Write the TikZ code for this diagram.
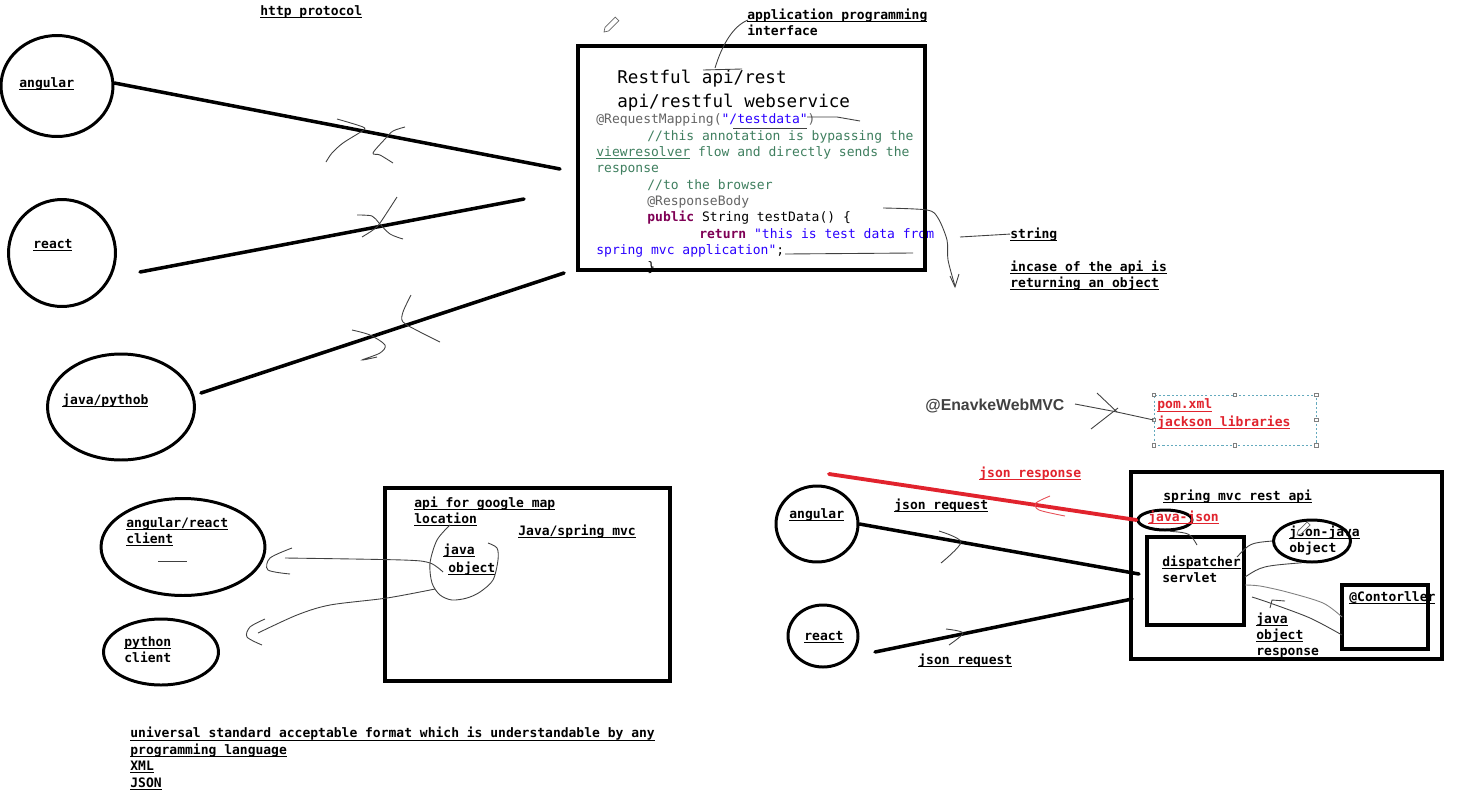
\documentclass[tikz,border=0pt]{standalone}
\usepackage{fontspec}
\setmonofont{DejaVu Sans Mono}
\newfontfamily\headfont{Liberation Sans}
\usetikzlibrary{shapes.geometric}
\definecolor{annot}{RGB}{100,100,100}
\definecolor{cmt}{RGB}{63,127,95}
\definecolor{kw}{RGB}{127,0,85}
\definecolor{str}{RGB}{42,0,255}
\definecolor{wred}{RGB}{225,35,45}
\definecolor{selc}{RGB}{100,170,190}
\definecolor{inkg}{RGB}{65,65,65}
\newsavebox\ulbox
\newcommand{\ulin}[1]{\sbox\ulbox{#1}\rlap{\rule[-1.5pt]{\wd\ulbox}{0.55pt}}\usebox\ulbox}
\tikzset{
  lbl/.style={font=\ttfamily\bfseries\fontsize{7.4}{9.1}\selectfont, inner sep=0pt, anchor=base west, align=left},
  code/.style={font=\ttfamily\fontsize{7.4}{9.3}\selectfont, inner sep=0pt, anchor=base west, align=left},
  ttl/.style={font=\ttfamily\fontsize{10}{13.6}\selectfont, inner sep=0pt, anchor=base west, align=left},
  ring/.style={ellipse, draw, line width=1.7pt, inner sep=0pt},
  frame/.style={draw, line width=2.2pt, inner sep=0pt},
  wire/.style={line width=2pt, line cap=round},
  redwire/.style={wred, line width=2.2pt, line cap=round},
  scrib/.style={black!75, line width=0.5pt},
  redscrib/.style={wred!80, line width=0.5pt},
  hdl/.style={draw=gray, fill=white, line width=0.4pt, minimum size=0.07cm, inner sep=0pt},
  pencil/.style={draw=gray!80!black, line width=0.4pt, fill=white},
}
\begin{document}
\begin{tikzpicture}[x=0.02cm, y=-0.02cm]
  \fill[white] (0,0) rectangle (1460,795);
  \useasboundingbox (0,0) rectangle (1460,795);

  % clients over http (multi-line nodes sit on their last line)
  \node[lbl] (http) at (260,15) {\ulin{http protocol}};
  \node[ring, minimum width=2.24cm, minimum height=2.02cm] (angC) at (57,86) {};
  \node[lbl] (angT) at (19,87) {\ulin{angular}};
  \node[ring, minimum width=2.14cm, minimum height=2.14cm] (reaC) at (62,253) {};
  \node[lbl] (reaT) at (33,248) {\ulin{react}};
  \node[ring, minimum width=2.94cm, minimum height=2.12cm] (javC) at (121,407) {};
  \node[lbl] (javT) at (62,404) {\ulin{java/pythob}};

  \coordinate (angE) at (560,169);
  \coordinate (reaS) at (140,272); \coordinate (reaE) at (524,199);
  \coordinate (javS) at (201,393); \coordinate (javE) at (564,273);
  \draw[wire] (angC.3) -- (angE);
  \draw[wire] (reaS) -- (reaE);
  \draw[wire] (javS) -- (javE);

  \draw[scrib] plot[smooth] coordinates {(337,119) (363,127) (362,131) (343,143) (332,153) (326,162)};
  \draw[scrib] plot[smooth] coordinates {(405,127) (393,131) (385,139) (373,153) (380,155) (393,163)};
  \draw[scrib] plot[smooth] coordinates {(397,197) (380,223) (373,230) (362,237)};
  \draw[scrib] plot[smooth] coordinates {(357,215) (372,216) (379,223) (390,234) (403,239)};
  \draw[scrib] plot[smooth] coordinates {(411,295) (403,312) (403,322) (420,332) (440,342)};
  \draw[scrib] plot[smooth] coordinates {(352,330) (370,335) (385,345) (380,353) (362,360) (377,357)};

  % restful api box
  \node[ttl] (rest) at (617,107) {Restful api/rest\\api/restful webservice};
  \node[code] (snip) at (596,271) {%
    \textcolor{annot}{@RequestMapping(}\textcolor{str}{"/testdata"}\textcolor{annot}{)}\\
    \hspace*{1.02cm}\textcolor{cmt}{//this annotation is bypassing the}\\
    \textcolor{cmt}{\ulin{viewresolver} flow and directly sends the}\\
    \textcolor{cmt}{response}\\
    \hspace*{1.02cm}\textcolor{cmt}{//to the browser}\\
    \hspace*{1.02cm}\textcolor{annot}{@ResponseBody}\\
    \hspace*{1.02cm}\textcolor{kw}{\bfseries public} String testData() \{\\
    \hspace*{2.06cm}\textcolor{kw}{\bfseries return} \textcolor{str}{"this is test data from}\\
    \textcolor{str}{spring mvc application"};\\
    \hspace*{1.02cm}\}};
  \node[frame, minimum width=6.94cm, minimum height=4.48cm] (api) at (751.5,158) {};

  \node[lbl] (aplT) at (747,35) {\ulin{application programming}\\interface};
  \draw[pencil] (604,32) -- (608.6,31) -- (618.8,20.8) -- (615.2,17.2) -- (605,27.4) -- cycle;
  \draw[scrib] (703,70) -- (742,69);
  \draw[scrib] (715,68) .. controls (722,45) and (733,26) .. (748,20);
  \draw[scrib] (733,128) -- (807,128);
  \draw[scrib] (807,117) -- (837,117) -- (860,121);
  \draw[scrib] (785,254) -- (913,253);
  \draw[scrib] plot[smooth] coordinates {(883,208) (927,210) (938,218) (947,240) (948,260) (955,286)};
  \draw[scrib] (950,276) -- (955,287) -- (959,274);

  \node[lbl] (strT) at (1010,238) {\ulin{string}};
  \node[lbl] (objT) at (1010,287) {\ulin{incase of the api is}\\\ulin{returning an object}};
  \draw[scrib] (960,237) -- (strT.west);

  % enable web mvc
  \node[font=\headfont\bfseries\fontsize{9}{11}\selectfont, text=inkg, inner sep=0pt, anchor=base west] (enav) at (925,410) {@EnavkeWebMVC};
  \node[draw=selc, dash pattern=on 1.2pt off 1.2pt, line width=0.4pt, minimum width=3.24cm, minimum height=1.0cm, inner sep=0pt] (sel) at (1235,420) {};
  \foreach \a in {north west, north, north east, west, east, south west, south, south east}
    \node[hdl] at (sel.\a) {};
  \node[lbl, text=wred] (pomT) at (1157,426) {\ulin{pom.xml}\\[0.6pt]\ulin{jackson libraries}};
  \draw[scrib] (1075,404) -- (1117,412) -- (sel.west);
  \draw[scrib] (1097,393) -- (1117,412);
  \draw[scrib] (1091,429) -- (1118,408);

  % spring mvc rest api
  \node[lbl, text=wred] (jresT) at (979,477) {\ulin{json response}};
  \node[frame, line width=2pt, minimum width=6.22cm, minimum height=3.74cm] (mvc) at (1286.5,565.5) {};
  \node[lbl] (srT) at (1163,500) {\ulin{spring mvc rest api}};
  \node[ring, minimum width=1.08cm, minimum height=0.4cm] (jjC) at (1165,520) {};
  \node[lbl, text=wred] (jjT) at (1148,521) {\ulin{java-json}};
  \node[ring, minimum width=1.64cm, minimum height=1.52cm] (angC2) at (817,524) {};
  \node[lbl] (angT2) at (789,518) {\ulin{angular}};
  \node[ring, minimum width=1.4cm, minimum height=1.24cm] (reaC2) at (823,636) {};
  \node[lbl] (reaT2) at (804,640) {\ulin{react}};
  \node[lbl] (jrqT) at (894,509) {\ulin{json request}};
  \node[lbl] (jrqT2) at (918,664) {\ulin{json request}};

  \coordinate (angE2) at (1139,574);
  \coordinate (reaS2) at (875,652); \coordinate (reaE2) at (1132,599);
  \coordinate (redS) at (829,474);
  \draw[wire] (angC2.east) -- (angE2);
  \draw[wire] (reaS2) -- (reaE2);
  \draw[redwire] (redS) -- (jjC.west);
  \draw[scrib] plot[smooth] coordinates {(939,531) (961,542) (941,563)};
  \draw[scrib] plot[smooth] coordinates {(946,629) (963,633) (949,645)};
  \draw[redscrib] plot[smooth] coordinates {(1050,496) (1036,503) (1039,510) (1065,516)};

  \node[frame, line width=2pt, minimum width=1.94cm, minimum height=1.76cm] (disp) at (1195.5,581) {};
  \node[lbl] (dsT) at (1162,582) {\ulin{dispatcher}\\servlet};
  \node[ring, minimum width=1.54cm, minimum height=0.84cm] (jvC) at (1312,541) {};
  \node[lbl] (jvT) at (1289,552) {\ulin{json-java}\\object};
  \draw[pencil] (1297,535) -- (1301,534) -- (1310,525) -- (1307,522) -- (1298,531) -- cycle;
  \node[frame, line width=2pt, minimum width=1.72cm, minimum height=1.28cm] (ctrl) at (1385,617) {};
  \node[lbl] (ctT) at (1349,601) {\ulin{@Contorller}};
  \node[lbl] (jorT) at (1256,655) {\ulin{java}\\\ulin{object}\\response};

  \draw[scrib] (jjC.-65) .. controls (1190,533) .. (1197,545);
  \draw[scrib] (1237,557) .. controls (1250,543) .. (jvC.west);
  \draw[scrib] (1245,577) .. controls (1262,566) .. (jvC.-115);
  \draw[gray, line width=0.5pt] plot[smooth] coordinates {(1245,585) (1260,586) (1287,592) (1323,603) (1342,617)};
  \draw[scrib] plot[smooth] coordinates {(1252,597) (1270,603) (1310,618) (1342,635)};
  \draw[scrib] (1270,608) -- (1272,600) -- (1285,601);

  % google map api
  \node[frame, line width=2pt, minimum width=5.7cm, minimum height=3.86cm] (gmap) at (527.5,584.5) {};
  \node[lbl] (gmT) at (414,523) {\ulin{api for google map}\\\ulin{location}};
  \node[lbl] (jsT) at (518,535) {\ulin{Java/spring mvc}};
  \node[lbl] (joT) at (443,554) {\ulin{java}};
  \node[lbl] (joT2) at (448,572) {\ulin{object}};
  \node[ring, minimum width=3.28cm, minimum height=1.94cm] (arC) at (183,547) {};
  \node[lbl] (arT) at (126,543) {\ulin{angular/react}\\\ulin{client}};
  \node[ring, minimum width=2.3cm, minimum height=1.32cm] (pyC) at (161,652) {};
  \node[lbl] (pyT) at (124,662) {\ulin{python}\\client};
  \draw[scrib] (158,561) -- (187,561);

  \draw[scrib] plot[smooth] coordinates {(450,525) (437,540) (430,563) (432,583) (440,595) (452,600) (467,598) (480,592) (493,580) (498,560) (497,548) (488,543)};
  \draw[scrib] plot[smooth] coordinates {(443,572) (430,563) (403,560) (285,558)};
  \draw[scrib] plot[smooth] coordinates {(292,548) (270,558) (268,570) (290,574)};
  \draw[scrib] plot[smooth] coordinates {(435,589) (387,598) (330,605) (297,615) (258,633)};
  \draw[scrib] plot[smooth] coordinates {(265,619) (250,627) (247,637) (262,645)};

  \node[lbl, font=\ttfamily\bfseries\fontsize{7.4}{9.3}\selectfont] (fmtT) at (130,787) {\ulin{universal standard acceptable format which is understandable by any}\\\ulin{programming language}\\\ulin{XML}\\\ulin{JSON}};
\end{tikzpicture}
\end{document}
